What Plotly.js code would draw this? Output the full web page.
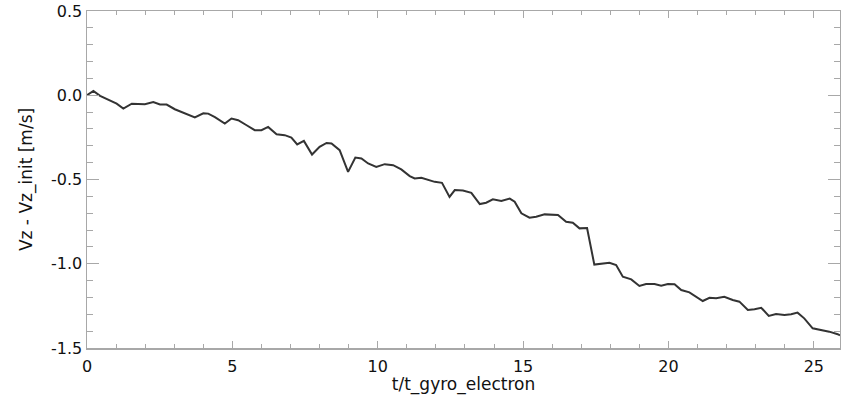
<!DOCTYPE html>
<html>
<head>
<meta charset="utf-8">
<script src="https://cdn.plot.ly/plotly-3.0.1.min.js"></script>
<style>
html,body{margin:0;padding:0;background:#fff;}
#chart{width:841px;height:395px;}
</style>
</head>
<body>
<div id="chart"></div>
<script>
// Time in units of electron gyro period
const tGyro = [
  0.00, 0.22, 0.45, 0.79, 1.02, 1.25, 1.54, 1.99, 2.28, 2.51, 2.74, 3.02, 3.37, 3.71,
  4.00, 4.17, 4.40, 4.74, 4.97, 5.20, 5.49, 5.77, 6.00, 6.23, 6.52, 6.80, 7.03, 7.23,
  7.46, 7.74, 8.00, 8.24, 8.41, 8.69, 8.98, 9.23, 9.44, 9.67, 9.95, 10.24, 10.53, 10.81,
  11.10, 11.27, 11.50, 11.73, 11.96, 12.21, 12.47, 12.65, 12.93, 13.22, 13.51, 13.73,
  13.96, 14.25, 14.54, 14.71, 14.94, 15.22, 15.45, 15.74, 15.97, 16.20, 16.48, 16.71,
  16.94, 17.20, 17.45, 17.74, 17.97, 18.20, 18.43, 18.72, 19.00, 19.23, 19.52, 19.75,
  19.98, 20.21, 20.44, 20.72, 20.95, 21.18, 21.41, 21.64, 21.92, 22.21, 22.44, 22.73,
  22.96, 23.19, 23.45, 23.70, 23.99, 24.22, 24.44, 24.67, 24.96, 25.25, 25.53, 25.82, 25.90
];
// Vz - Vz_init [m/s]
const dVz = [
  0.000, 0.026, -0.004, -0.030, -0.050, -0.079, -0.050, -0.053, -0.040, -0.055, -0.055, -0.083, -0.109, -0.132,
  -0.107, -0.109, -0.130, -0.168, -0.138, -0.148, -0.178, -0.207, -0.207, -0.188, -0.231, -0.237, -0.251, -0.292,
  -0.271, -0.352, -0.306, -0.283, -0.286, -0.326, -0.455, -0.370, -0.375, -0.405, -0.425, -0.409, -0.415, -0.440,
  -0.480, -0.494, -0.490, -0.504, -0.514, -0.520, -0.603, -0.563, -0.565, -0.579, -0.646, -0.638,
  -0.618, -0.627, -0.613, -0.632, -0.701, -0.727, -0.721, -0.707, -0.711, -0.711, -0.751, -0.757,
  -0.790, -0.788, -1.005, -0.998, -0.994, -1.008, -1.077, -1.093, -1.132, -1.120, -1.120, -1.130,
  -1.120, -1.122, -1.156, -1.170, -1.196, -1.221, -1.202, -1.205, -1.196, -1.215, -1.225, -1.274,
  -1.270, -1.261, -1.310, -1.298, -1.304, -1.300, -1.290, -1.324, -1.383, -1.393, -1.403, -1.418, -1.425
];
const yTickVals = [-1.5, -1.0, -0.5, 0.0, 0.5];
const yTickText = ['-1.5', '-1.0', '-0.5', '0.0', '0.5'];
const xTickVals = [0, 5, 10, 15, 20, 25];
const xTickText = ['0', '5', '10', '15', '20', '25'];

const axisGrey = '#a8a8a8';
const fam = 'DejaVu Sans, Liberation Sans, Arial, sans-serif';
const tickFont = {family: fam, size: 16, color: '#111'};
const titleFont = {family: fam, size: 17, color: '#111'};

const trace = {
  x: tGyro, y: dVz, type: 'scatter', mode: 'lines',
  line: {color: '#333333', width: 2}, hoverinfo: 'skip', showlegend: false
};

const layout = {
  width: 841, height: 395,
  margin: {l: 87, r: 1, t: 11, b: 47, pad: 0},
  paper_bgcolor: '#ffffff', plot_bgcolor: '#ffffff',
  showlegend: false,
  xaxis: {
    range: [0, 25.9], tickmode: 'array', tickvals: xTickVals, ticktext: xTickText,
    ticks: 'inside', ticklen: 7, tickwidth: 1, tickcolor: axisGrey, ticklabelstandoff: 3,
    minor: {tickmode: 'linear', tick0: 0, dtick: 1, ticks: 'inside', ticklen: 4, tickcolor: axisGrey, tickwidth: 1, showgrid: false},
    showline: true, linecolor: axisGrey, linewidth: 1.5, mirror: 'ticks',
    showgrid: false, zeroline: false, tickfont: tickFont,
    title: {text: 't/t_gyro_electron', font: titleFont, standoff: 4}
  },
  yaxis: {
    range: [-1.5, 0.5], tickmode: 'array', tickvals: yTickVals, ticktext: yTickText,
    ticks: 'inside', ticklen: 12, tickwidth: 1, tickcolor: axisGrey,
    minor: {tickmode: 'linear', tick0: 0, dtick: 0.1, ticks: 'inside', ticklen: 6, tickcolor: axisGrey, tickwidth: 1, showgrid: false},
    showline: true, linecolor: axisGrey, linewidth: 1.5, mirror: 'ticks',
    showgrid: false, zeroline: false, tickfont: tickFont,
    title: {text: 'Vz - Vz_init [m/s]', font: titleFont, standoff: 14}
  }
};

Plotly.newPlot('chart', [trace], layout, {displayModeBar: false, staticPlot: true});
</script>
</body>
</html>
